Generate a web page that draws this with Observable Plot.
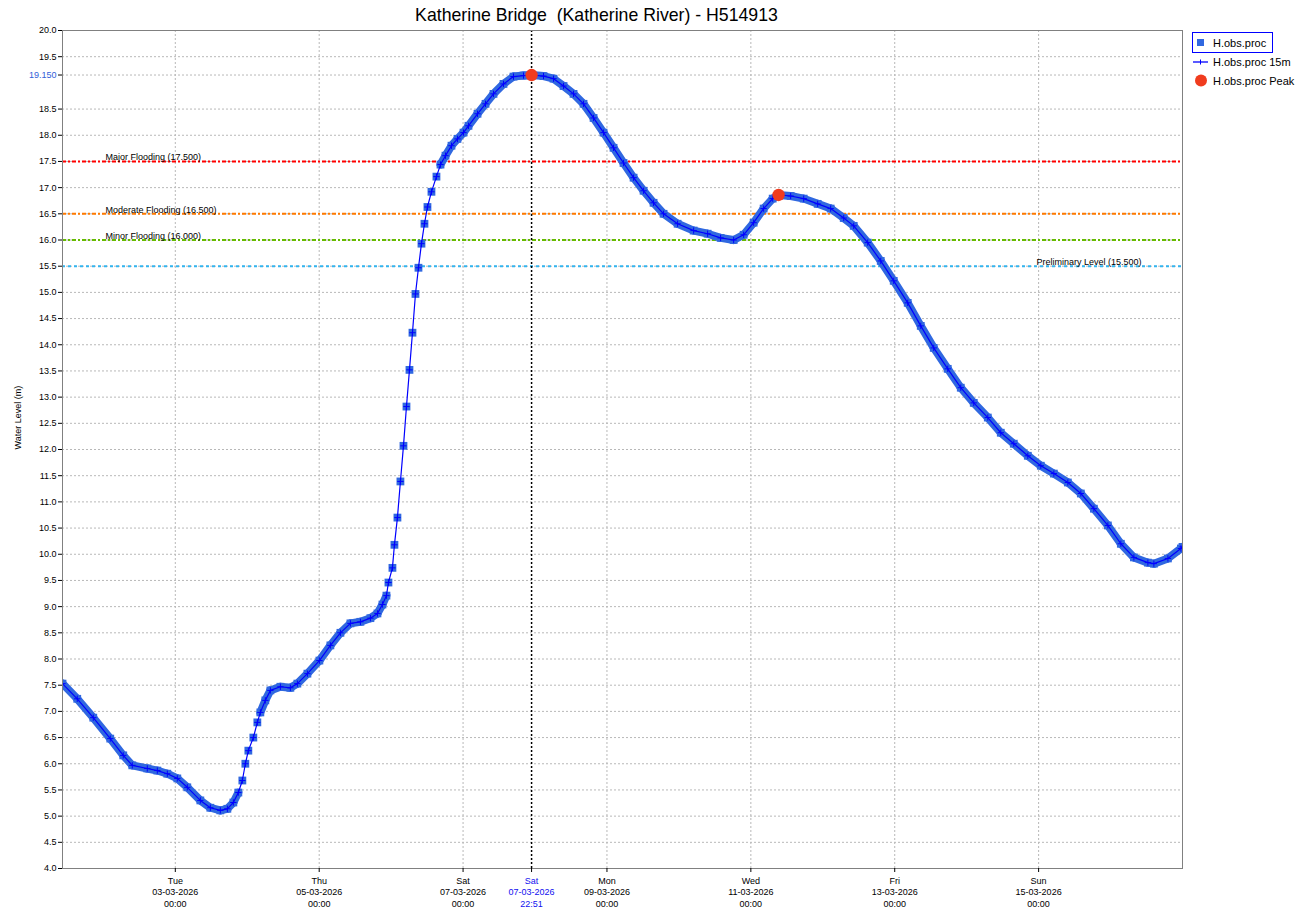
<!DOCTYPE html>
<html>
<head>
<meta charset="utf-8">
<script src="https://cdn.jsdelivr.net/npm/d3@7"></script>
<script src="https://cdn.jsdelivr.net/npm/@observablehq/plot@0.6"></script>
<style>
  body { margin: 0; background: #fff; font-family: "Liberation Sans", Arial, sans-serif; }
  #wrap { position: relative; width: 1309px; height: 920px; overflow: hidden; }
  #chart { position: absolute; left: 0; top: 0; }
  #overlay { position: absolute; left: 0; top: 0; pointer-events: none; }
</style>
</head>
<body>
<div id="wrap"><div id="chart"></div><svg id="overlay" width="1309" height="100"></svg></div>
<script>
// ---------------- data ----------------
const times = [
  "2026-03-01 10:22","2026-03-01 15:17","2026-03-01 20:38","2026-03-02 02:18","2026-03-02 06:38",
  "2026-03-02 09:39","2026-03-02 14:39","2026-03-02 18:00","2026-03-02 21:20","2026-03-03 00:40",
  "2026-03-03 04:00","2026-03-03 08:21","2026-03-03 11:41","2026-03-03 15:01","2026-03-03 17:22",
  "2026-03-03 19:22","2026-03-03 21:02","2026-03-03 22:22","2026-03-03 23:22","2026-03-04 00:22",
  "2026-03-04 02:02","2026-03-04 03:22","2026-03-04 04:22","2026-03-04 06:02","2026-03-04 07:43",
  "2026-03-04 11:03","2026-03-04 14:23","2026-03-04 16:43","2026-03-04 20:04","2026-03-05 00:04",
  "2026-03-05 03:44","2026-03-05 07:05","2026-03-05 10:25","2026-03-05 13:45","2026-03-05 17:05",
  "2026-03-05 19:26","2026-03-05 21:06","2026-03-05 22:26","2026-03-05 23:06","2026-03-06 00:26",
  "2026-03-06 01:06","2026-03-06 02:06","2026-03-06 03:06","2026-03-06 04:07","2026-03-06 05:07",
  "2026-03-06 06:07","2026-03-06 07:07","2026-03-06 08:07","2026-03-06 09:07","2026-03-06 10:07",
  "2026-03-06 11:07","2026-03-06 12:07","2026-03-06 13:27","2026-03-06 15:07","2026-03-06 16:28",
  "2026-03-06 18:08","2026-03-06 20:08","2026-03-06 22:08","2026-03-07 00:08","2026-03-07 01:48",
  "2026-03-07 04:49","2026-03-07 07:29","2026-03-07 10:09","2026-03-07 13:29","2026-03-07 16:49",
  "2026-03-07 20:10","2026-03-07 22:51","2026-03-08 02:50","2026-03-08 06:11","2026-03-08 09:31",
  "2026-03-08 12:51","2026-03-08 16:11","2026-03-08 19:32","2026-03-08 22:52","2026-03-09 02:12",
  "2026-03-09 05:32","2026-03-09 08:53","2026-03-09 12:13","2026-03-09 15:33","2026-03-09 18:53",
  "2026-03-09 23:34","2026-03-10 04:55","2026-03-10 09:35","2026-03-10 13:55","2026-03-10 18:16",
  "2026-03-10 21:36","2026-03-11 00:56","2026-03-11 04:16","2026-03-11 07:17","2026-03-11 09:15",
  "2026-03-11 13:17","2026-03-11 17:38","2026-03-11 22:18","2026-03-12 02:38","2026-03-12 06:59",
  "2026-03-12 10:19","2026-03-12 14:59","2026-03-12 19:20","2026-03-12 23:40","2026-03-13 04:20",
  "2026-03-13 08:41","2026-03-13 13:01","2026-03-13 17:41","2026-03-13 22:02","2026-03-14 02:22",
  "2026-03-14 07:03","2026-03-14 11:23","2026-03-14 15:43","2026-03-14 20:24","2026-03-15 00:44",
  "2026-03-15 05:05","2026-03-15 09:45","2026-03-15 14:05","2026-03-15 18:26","2026-03-15 23:06",
  "2026-03-16 03:26","2026-03-16 07:47","2026-03-16 12:27","2026-03-16 14:27","2026-03-16 19:08",
  "2026-03-16 23:28","2026-03-17 00:00"
];
const levels = [
  7.53,7.24,6.88,6.48,6.16,
  5.97,5.91,5.87,5.81,5.72,
  5.55,5.30,5.16,5.11,5.14,
  5.26,5.45,5.68,6.00,6.25,
  6.50,6.79,6.98,7.21,7.40,
  7.47,7.45,7.53,7.72,7.97,
  8.26,8.50,8.68,8.71,8.78,
  8.87,9.04,9.21,9.46,9.74,
  10.18,10.70,11.39,12.07,12.82,
  13.52,14.23,14.97,15.47,15.93,
  16.31,16.63,16.92,17.21,17.44,
  17.61,17.80,17.93,18.05,18.18,
  18.41,18.60,18.79,18.98,19.12,
  19.14,19.15,19.13,19.08,18.94,
  18.79,18.60,18.33,18.05,17.76,
  17.47,17.19,16.94,16.71,16.50,
  16.31,16.18,16.12,16.04,16.00,
  16.10,16.33,16.60,16.79,16.86,
  16.84,16.79,16.69,16.60,16.42,
  16.27,15.95,15.60,15.22,14.80,
  14.36,13.94,13.54,13.18,12.89,
  12.61,12.32,12.11,11.88,11.69,
  11.54,11.37,11.16,10.87,10.55,
  10.20,9.94,9.84,9.82,9.92,
  10.11,10.14
];
const peakTimes = ["2026-03-07 22:51", "2026-03-11 09:15"];
const peakLevels = [19.15, 16.86];

const thresholdLabels = ["Major Flooding (17.500)", "Moderate Flooding (16.500)", "Minor Flooding (16.000)", "Preliminary Level (15.500)"];
const thresholdValues = [17.5, 16.5, 16.0, 15.5];

const xTickTimes = ["2026-03-03 00:00","2026-03-05 00:00","2026-03-07 00:00","2026-03-09 00:00","2026-03-11 00:00","2026-03-13 00:00","2026-03-15 00:00"];
const yTicks = [4.0,4.5,5.0,5.5,6.0,6.5,7.0,7.5,8.0,8.5,9.0,9.5,10.0,10.5,11.0,11.5,12.0,12.5,13.0,13.5,14.0,14.5,15.0,15.5,16.0,16.5,17.0,17.5,18.0,18.5,19.5,20.0];
const peakTick = 19.15;
const xDomain = ["2026-03-01 10:22", "2026-03-17 00:00"];

// ---------------- styles ----------------
const BAND = "#3068e0";
const LINE = "#0000ff";
const PEAK = "#f03c1e";
const thresholdStyle = [
  {stroke: "#ff0000", dash: "4,2,2,2", side: "left"},
  {stroke: "#ff7a00", dash: "4,2,2,2", side: "left"},
  {stroke: "#66bb00", dash: "4,2,2,2", side: "left"},
  {stroke: "#33b5f0", dash: "3,3",     side: "right"}
];
const FONT = "Liberation Sans, Arial, sans-serif";

const parse = d3.utcParse("%Y-%m-%d %H:%M");
const data = times.map((t, i) => ({t: parse(t), v: levels[i]}));
const peaks = peakTimes.map((t, i) => ({t: parse(t), v: peakLevels[i]}));
const xTicks = xTickTimes.map(parse);
const peakT = peaks[0].t;

// band segments (where the series is dense: gentle slope)
const segs = data.slice(1).map((d, i) => ({a: data[i], b: d}))
  .filter(s => Math.abs(s.b.v - s.a.v) / ((s.b.t - s.a.t) / 3.6e6) < 0.14);

const fmtX = d3.utcFormat("%a\n%d-%m-%Y\n%H:%M");

const thresholdMarks = thresholdValues.flatMap((v, i) => {
  const st = thresholdStyle[i];
  return [
    Plot.ruleY([v], {stroke: st.stroke, strokeWidth: 2, strokeDasharray: st.dash}),
    Plot.text([thresholdLabels[i]], {
      y: () => v, text: d => d,
      frameAnchor: st.side, dx: st.side === "left" ? 43 : -146,
      textAnchor: "start", lineAnchor: "bottom", dy: -1,
      fontSize: 9, fill: "#000"
    })
  ];
});

const chart = Plot.plot({
  width: 1309, height: 920,
  marginLeft: 62, marginRight: 127, marginTop: 30, marginBottom: 52,
  style: {fontFamily: FONT, background: "#fff", color: "#000"},
  x: {type: "utc", domain: xDomain.map(parse)},
  y: {domain: [4, 20]},
  marks: [
    Plot.gridX(xTicks, {stroke: "#b8b8b8", strokeOpacity: 1, strokeDasharray: "2,2"}),
    Plot.gridY([...yTicks, peakTick], {stroke: "#b8b8b8", strokeOpacity: 1, strokeDasharray: "2,2"}),
    ...thresholdMarks,
    Plot.ruleX([peakT], {stroke: "#000", strokeWidth: 1.5, strokeDasharray: "2,2"}),
    Plot.link(segs, {x1: s => s.a.t, y1: s => s.a.v, x2: s => s.b.t, y2: s => s.b.v,
      stroke: BAND, strokeWidth: 8, strokeLinecap: "round", clip: true}),
    Plot.dot(data, {x: "t", y: "v", symbol: "square", r: 4.4, fill: BAND, stroke: "none", clip: true}),
    Plot.line(data, {x: "t", y: "v", stroke: LINE, strokeWidth: 1.2, clip: true}),
    Plot.dot(data, {x: "t", y: "v", symbol: "plus", r: 2.2, stroke: LINE, strokeWidth: 1, clip: true}),
    Plot.dot(peaks, {x: "t", y: "v", r: 6.2, fill: PEAK, stroke: "none"}),
    Plot.frame({stroke: "#808080"}),
    Plot.axisX(xTicks, {tickFormat: fmtX, tickSize: 4, tickPadding: 3, fontSize: 9, lineHeight: 1.28, label: null, fill: "#000"}),
    Plot.axisX([peakT], {tickFormat: fmtX, tickSize: 4, tickPadding: 3, fontSize: 9, lineHeight: 1.28, label: null, fill: "#1010f0"}),
    Plot.axisY(yTicks, {tickFormat: d => d.toFixed(1), tickSize: 4, tickPadding: 2, fontSize: 9, label: null, fill: "#000"}),
    Plot.axisY([peakTick], {tickFormat: d => d.toFixed(3), tickSize: 4, tickPadding: 2, fontSize: 9, label: null, fill: "#3060d8"}),
    Plot.text(["Water Level (m)"], {text: d => d, frameAnchor: "left", dx: -44, rotate: -90, fontSize: 9, fill: "#000"})
  ]
});
document.getElementById("chart").appendChild(chart);

// ---------------- title & legend overlay ----------------
const ov = d3.select("#overlay").style("font-family", FONT);
ov.append("text").attr("x", 596.5).attr("y", 21).attr("text-anchor", "middle")
  .attr("font-size", 17.7).attr("fill", "#000").style("white-space", "pre")
  .text("Katherine Bridge  (Katherine River) - H514913");

const lg = ov.append("g").attr("font-size", 11).attr("fill", "#000");
lg.append("rect").attr("x", 1192.5).attr("y", 32.5).attr("width", 80).attr("height", 20)
  .attr("fill", "none").attr("stroke", "#0000ff");
lg.append("rect").attr("x", 1197).attr("y", 39).attr("width", 7).attr("height", 7).attr("fill", BAND);
lg.append("text").attr("x", 1213).attr("y", 46.5).text("H.obs.proc");
lg.append("line").attr("x1", 1193).attr("x2", 1208).attr("y1", 62).attr("y2", 62).attr("stroke", LINE).attr("stroke-width", 1.3);
lg.append("line").attr("x1", 1200.5).attr("x2", 1200.5).attr("y1", 59.5).attr("y2", 64.5).attr("stroke", LINE);
lg.append("text").attr("x", 1213).attr("y", 66).text("H.obs.proc 15m");
lg.append("circle").attr("cx", 1201).attr("cy", 80.5).attr("r", 6).attr("fill", PEAK);
lg.append("text").attr("x", 1213).attr("y", 85).text("H.obs.proc Peak");
</script>
</body>
</html>
